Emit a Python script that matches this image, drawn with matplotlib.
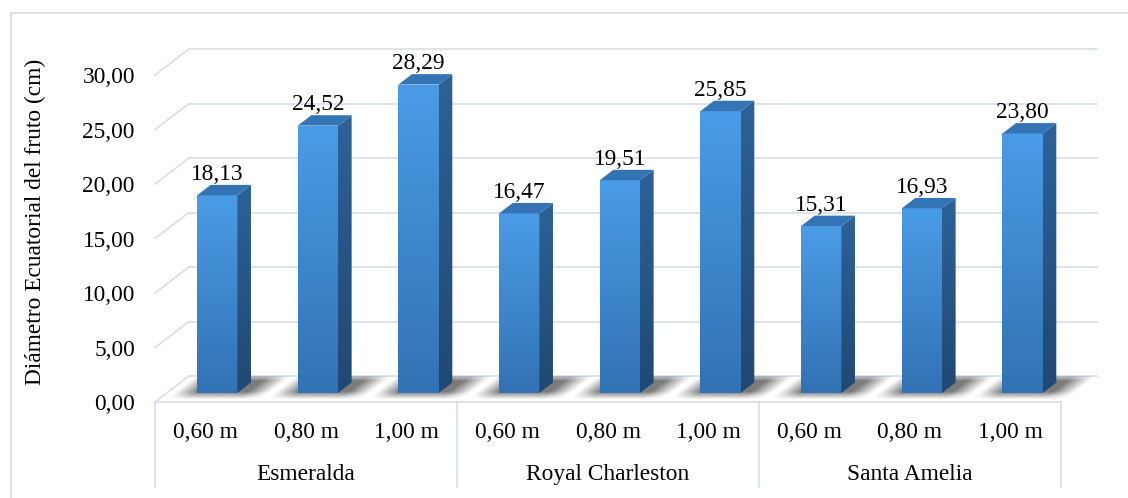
import numpy as np
import matplotlib
matplotlib.use("Agg")
import matplotlib.pyplot as plt
from matplotlib.patches import Polygon
from matplotlib.lines import Line2D

# ---------------- data ----------------
groups = ["Esmeralda", "Royal Charleston", "Santa Amelia"]
spacings = ["0,60 m", "0,80 m", "1,00 m"]
esmeralda = [18.13, 24.52, 28.29]
royal_charleston = [16.47, 19.51, 25.85]
santa_amelia = [15.31, 16.93, 23.80]
yticks = [0, 5, 10, 15, 20, 25, 30]
ylabel = "Diámetro Ecuatorial del fruto (cm)"

values = esmeralda + royal_charleston + santa_amelia
n = len(values)

plt.rcParams['font.family'] = ['Liberation Serif', 'DejaVu Serif']
FS = 16.8

W, H = 1128, 498
fig = plt.figure(figsize=(W / 100, H / 100), dpi=100)
fig.patch.set_facecolor('white')

# front plane of the 3-D box (pixels from top-left)
L, R, B, T = 155, 1061, 402, 75
ax = fig.add_axes([L / W, 1 - B / H, (R - L) / W, (B - T) / H])
ax.set_xlim(0, n)
ax.set_ylim(0, 30)
px_x = (R - L) / n          # pixels per slot
px_y = (B - T) / 30.0       # pixels per unit
DX = 34 / px_x              # depth offset (data units)
DY = 26 / px_y
f0, f1 = 0.35, 0.75         # bar depth range
BW = 0.40                   # bar width (slot fraction)

grid_c = '#D9DEE6'
# ---------------- walls / gridlines ----------------
for v in yticks:
    ax.add_line(Line2D([0, DX], [v, v + DY], color=grid_c, lw=1.2, clip_on=False, zorder=0))
    ax.add_line(Line2D([DX, n + DX * 1.05], [v + DY, v + DY], color=grid_c, lw=1.2,
                       clip_on=False, zorder=0))

# ---------------- floor shadows ----------------
X = np.linspace(0, n + DX, 2400)
Yf = np.linspace(0, DY, 80)
XX, YY = np.meshgrid(X, Yf)
FF = YY / DY
XS = XX - FF * DX


def soft(t, a, b, w):
    return np.clip((t - a) / w + 0.5, 0, 1) * np.clip((b - t) / w + 0.5, 0, 1)


alpha = np.zeros_like(XX)
for i in range(n):
    xl = i + 0.5 - BW / 2
    xr = i + 0.5 + BW / 2
    a = soft(XS, xl - 0.12, xr + 0.20, 0.22) * soft(FF, f0 - 0.10, f1 + 0.22, 0.3)
    alpha = np.maximum(alpha, a)
img = np.zeros(XX.shape + (4,))
img[..., :3] = 0.28
img[..., 3] = alpha * 0.72
ax.imshow(img, extent=(0, n + DX, 0, DY), origin='lower', aspect='auto',
          interpolation='bilinear', zorder=1, clip_on=False)

# ---------------- bars ----------------
centers = np.arange(n) + 0.5
bars = ax.bar(centers + f0 * DX, values, width=BW, bottom=f0 * DY,
              color='none', edgecolor='none', zorder=3)

front_top = np.array([74, 156, 230]) / 255
front_bot = np.array([50, 114, 180]) / 255
side_top = np.array([45, 98, 152]) / 255
side_bot = np.array([32, 72, 115]) / 255
top_c = np.array([52, 116, 180]) / 255

grad = np.linspace(0, 1, 128)[:, None, None]
front_img = front_bot + (front_top - front_bot) * grad
side_img = side_bot + (side_top - side_bot) * grad

ddx = (f1 - f0) * DX
ddy = (f1 - f0) * DY
for rect, v in zip(bars, values):
    x0 = rect.get_x()
    x1 = x0 + rect.get_width()
    b = rect.get_y()
    t = b + rect.get_height()
    im = ax.imshow(front_img, extent=(x0, x1, b, t), origin='lower', aspect='auto',
                   zorder=3, interpolation='bilinear')
    im.set_clip_path(rect)
    side = Polygon([(x1, b), (x1 + ddx, b + ddy), (x1 + ddx, t + ddy), (x1, t)],
                   closed=True, facecolor='none', edgecolor='none', zorder=3)
    ax.add_patch(side)
    ims = ax.imshow(side_img, extent=(x1, x1 + ddx, b, t + ddy), origin='lower',
                    aspect='auto', zorder=3, interpolation='bilinear')
    ims.set_clip_path(side)
    ims.set_clip_on(True)
    top = Polygon([(x0, t), (x1, t), (x1 + ddx, t + ddy), (x0 + ddx, t + ddy)],
                  closed=True, facecolor=top_c, edgecolor='none', zorder=4, clip_on=False)
    ax.add_patch(top)
    ax.annotate(f"{v:.2f}".replace('.', ','), xy=((x0 + x1) / 2, t + ddy),
                xytext=(0, 3.5), textcoords='offset points', ha='center', va='baseline',
                fontsize=FS, color='black', zorder=5, annotation_clip=False)

ax.set_xlim(0, n)
ax.set_ylim(0, 30)

# ---------------- axes styling ----------------
for s in ax.spines.values():
    s.set_visible(False)
ax.set_facecolor('none')
ax.set_yticks(yticks)
ax.set_yticklabels([f"{v:.2f}".replace('.', ',') for v in yticks], fontsize=FS)
ax.tick_params(axis='y', length=0, pad=14.5, labelcolor='black')
ax.set_xticks([])

# category axis (front floor edge + group separators)
sep_bottom = -(487 - B) / px_y
ax.add_line(Line2D([0, n], [0, 0], color=grid_c, lw=1.2, clip_on=False, zorder=2))
for k in range(len(groups) + 1):
    ax.add_line(Line2D([3 * k, 3 * k], [0, sep_bottom], color=grid_c, lw=1.2,
                       clip_on=False, zorder=2))
for i, c in enumerate(centers):
    ax.annotate(spacings[i % 3], xy=(c, 0), xytext=(0, -21.6), textcoords='offset points',
                ha='center', va='center', fontsize=FS, annotation_clip=False)
for g, name in enumerate(groups):
    ax.annotate(name, xy=(3 * g + 1.5, 0), xytext=(0, -52), textcoords='offset points',
                ha='center', va='center', fontsize=FS, annotation_clip=False)

fig.text(35 / W, 1 - 222 / H, ylabel, rotation=90, ha='center', va='center', fontsize=FS)

# outer chart border (left and top visible)
fig.add_artist(Line2D([11 / W, 11 / W], [0, 1 - 13 / H], color='#D9D9D9', lw=1.2,
                      transform=fig.transFigure))
fig.add_artist(Line2D([11 / W, 1], [1 - 13 / H, 1 - 13 / H], color='#D9D9D9', lw=1.2,
                      transform=fig.transFigure))

fig.savefig("out.png", dpi=100, facecolor='white')
